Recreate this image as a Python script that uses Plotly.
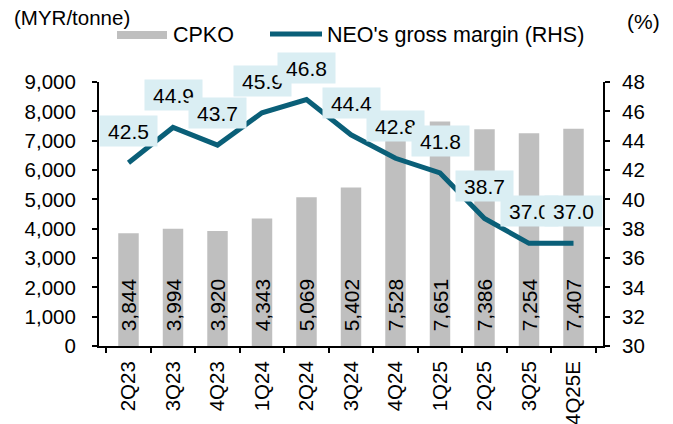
import plotly.graph_objects as go

quarters = ["2Q23", "3Q23", "4Q23", "1Q24", "2Q24", "3Q24", "4Q24", "1Q25", "2Q25", "3Q25", "4Q25E"]
cpko = [3844, 3994, 3920, 4343, 5069, 5402, 7528, 7651, 7386, 7254, 7407]
margin = [42.5, 44.9, 43.7, 45.9, 46.8, 44.4, 42.8, 41.8, 38.7, 37.0, 37.0]

FONT = "Liberation Sans, Arial, sans-serif"
BAR_C = "#BFBFBF"
LINE_C = "#0A5F78"
BOX_C = "#DAEEF3"
FS = 20.5

W, H = 673, 424
L, R, T, B = 99, 70, 82, 78
PW, PH = W - L - R, H - T - B

def px(x):
    return (x - L) / PW

def py(y):
    return (H - B - y) / PH

fig = go.Figure()
fig.add_trace(go.Bar(
    x=quarters, y=cpko, name="CPKO", marker=dict(color=BAR_C, line=dict(width=0)),
    texttemplate="\u00a0\u00a0%{y:,}", textposition="inside", insidetextanchor="start",
    textangle=-90, textfont=dict(size=21, color="black", family=FONT),
    constraintext="none", showlegend=False,
))
fig.add_trace(go.Scatter(
    x=quarters, y=margin, yaxis="y2", mode="lines", name="NEO's gross margin (RHS)",
    line=dict(color=LINE_C, width=5), showlegend=False,
))

annotations = []
for q, m in zip(quarters, margin):
    annotations.append(dict(
        x=q, y=m, xref="x", yref="y2", text=f"{m:.1f}", showarrow=False,
        yshift=32, bgcolor=BOX_C, borderpad=3, width=51, height=24,
        font=dict(size=21, color="black", family=FONT),
    ))

# titles and legend
annotations += [
    dict(x=px(12), y=py(17), xref="paper", yref="paper", text="(MYR/tonne)", showarrow=False,
         xanchor="left", yanchor="middle", font=dict(size=FS, color="black", family=FONT)),
    dict(x=px(662), y=py(21), xref="paper", yref="paper", text="(%)", showarrow=False,
         xanchor="right", yanchor="middle", font=dict(size=21, color="black", family=FONT)),
    dict(x=px(171), y=py(35), xref="paper", yref="paper", text="CPKO", showarrow=False,
         xanchor="left", yanchor="middle", font=dict(size=21.5, color="black", family=FONT)),
    dict(x=px(325), y=py(35), xref="paper", yref="paper", text="NEO's gross margin (RHS)", showarrow=False,
         xanchor="left", yanchor="middle", font=dict(size=21.5, color="black", family=FONT)),
]
shapes = [
    dict(type="rect", xref="paper", yref="paper", x0=px(117), x1=px(167), y0=py(31), y1=py(39),
         fillcolor=BAR_C, line=dict(width=0)),
    dict(type="line", xref="paper", yref="paper", x0=px(270), x1=px(322), y0=py(34), y1=py(34),
         line=dict(color=LINE_C, width=5)),
]

axis_common = dict(showline=True, linecolor="black", linewidth=2, ticks="outside", ticklen=5,
                   tickwidth=2, tickcolor="black", showgrid=False, zeroline=False,
                   tickfont=dict(size=FS, family=FONT, color="black"), automargin=False)

fig.update_layout(
    width=W, height=H, margin=dict(l=L, r=R, t=T, b=B, autoexpand=False),
    paper_bgcolor="white", plot_bgcolor="white",
    font=dict(family=FONT, size=FS, color="black"),
    bargap=0.54, showlegend=False,
    annotations=annotations, shapes=shapes,
    xaxis=dict(type="category", tickson="boundaries", tickangle=-90, ticklabelstandoff=5, **axis_common),
    yaxis=dict(range=[0, 9000], dtick=1000, tickformat=",", ticklabelstandoff=12, **axis_common),
    yaxis2=dict(range=[30, 48], dtick=2, overlaying="y", side="right", ticklabelstandoff=8, **axis_common),
)

fig.write_html(
    "out.html",
    config={"displayModeBar": False},
    post_script="document.body.style.margin='0';document.body.style.overflow='hidden';",
)
